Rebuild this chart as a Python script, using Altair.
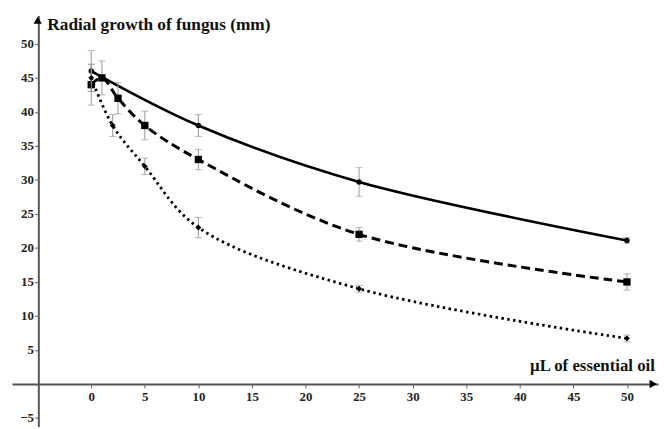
import altair as alt
import pandas as pd

# ---- data ----
solid_x = [0, 10, 25, 50]
solid_y = [46, 38, 29.7, 21.1]
solid_err = [3, 1.6, 2.1, 0.4]

dash_x = [0, 1, 2.5, 5, 10, 25, 50]
dash_y = [44, 45, 42, 38, 33, 22, 15]
dash_err = [3, 2.5, 2.3, 2.1, 1.5, 1.0, 1.2]

dot_x = [0, 2, 5, 10, 25, 50]
dot_y = [45, 38, 32, 23, 14, 6.7]
dot_err = [2, 1.6, 1.2, 1.5, 0.5, 0.5]

x_ticks = [0, 5, 10, 15, 20, 25, 30, 35, 40, 45, 50]
y_ticks = [-5, 5, 10, 15, 20, 25, 30, 35, 40, 45, 50]

y_title = "Radial growth of fungus (mm)"
x_title = "µL of essential oil"

X_DOMAIN = [-7.4, 52.9]
Y_DOMAIN = [-6.24, 54.17]

FONT = "'Liberation Serif', 'Times New Roman', 'DejaVu Serif', serif"


def frame(xs, ys, errs, name):
    return pd.DataFrame({
        "x": xs, "y": ys,
        "lo": [a - b for a, b in zip(ys, errs)],
        "hi": [a + b for a, b in zip(ys, errs)],
        "series": name,
    })


df_solid = frame(solid_x, solid_y, solid_err, "solid")
df_dash = frame(dash_x, dash_y, dash_err, "dash")
df_dot = frame(dot_x, dot_y, dot_err, "dot")

xs = alt.Scale(domain=X_DOMAIN, nice=False, zero=False)
ys = alt.Scale(domain=Y_DOMAIN, nice=False, zero=False)

x_axis = alt.Axis(
    values=x_ticks, offset=-43, grid=False, domainColor="#555", domainWidth=2,
    tickColor="#666", tickSize=4, tickWidth=1, labelPadding=3,
    labelFont=FONT, labelFontWeight="bold", labelFontSize=13, labelColor="#222",
    title=x_title, titleFont=FONT, titleFontWeight="bold", titleFontSize=17,
    titleColor="#111", titleX=524, titleY=-14, titleAlign="left",
    titleBaseline="alphabetic", titleAnchor="start")
y_axis = alt.Axis(
    values=y_ticks, offset=-26.7, grid=False, domainColor="#555", domainWidth=2,
    tickColor="#666", tickSize=4, tickWidth=1, labelPadding=1,
    labelFont=FONT, labelFontWeight="bold", labelFontSize=13, labelColor="#222",
    title=y_title, titleFont=FONT, titleFontWeight="bold", titleFontSize=17.5,
    titleColor="#111", titleAngle=0, titleX=8.6, titleY=14, titleAlign="left",
    titleBaseline="alphabetic", titleAnchor="start")


def XQ(f="x"):
    return alt.X(f"{f}:Q", scale=xs, axis=x_axis, title=x_title)


def YQ(f="y"):
    return alt.Y(f"{f}:Q", scale=ys, axis=y_axis, title=y_title)


layers = []


def series_layers(df, dash, shape, size, width):
    base = alt.Chart(df)
    err = base.mark_rule(color="#999", strokeWidth=1).encode(
        x=XQ(), y=YQ("lo"), y2="hi:Q")
    cap_lo = base.mark_tick(color="#999", thickness=1, size=7, orient="horizontal").encode(
        x=XQ(), y=YQ("lo"))
    cap_hi = base.mark_tick(color="#999", thickness=1, size=7, orient="horizontal").encode(
        x=XQ(), y=YQ("hi"))
    line_kw = dict(color="black", strokeWidth=width, interpolate="catmull-rom")
    if dash:
        line_kw["strokeDash"] = dash
    line = base.mark_line(**line_kw).encode(x=XQ(), y=YQ())
    pts = base.mark_point(shape=shape, filled=True, color="black", size=size, opacity=1).encode(
        x=XQ(), y=YQ())
    return [err, cap_lo, cap_hi, line, pts]


layers += series_layers(df_solid, None, "circle", 30, 2.6)
layers += series_layers(df_dash, [9, 5], "square", 55, 3)
layers += series_layers(df_dot, [2.5, 3.5], "diamond", 35, 2.8)

arrows = pd.DataFrame({
    "x": [X_DOMAIN[1] - 0.45, -5],
    "y": [0, Y_DOMAIN[1] - 0.7],
    "shape": ["triangle-right", "triangle-up"],
})
arrow_layer = alt.Chart(arrows).mark_point(filled=True, color="black", size=70, opacity=1).encode(
    x=XQ(), y=YQ(), shape=alt.Shape("shape:N", scale=None))
layers.append(arrow_layer)

chart = alt.layer(*layers).properties(
    width=654, height=416,
    background="white",
    autosize=alt.AutoSizeParams(type="none"),
    padding={"left": 4, "top": 5, "right": 2, "bottom": 0},
).configure_view(stroke=None)

chart.save("out.html", embed_options={"renderer": "svg", "actions": False})
